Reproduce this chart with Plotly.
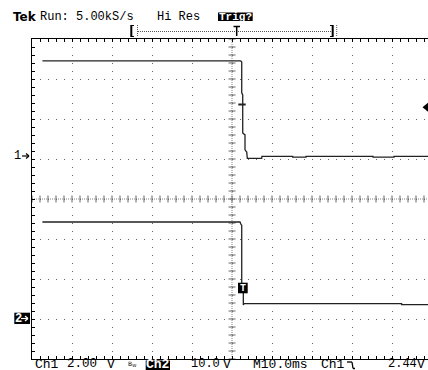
import numpy as np
import plotly.graph_objects as go

# ---- acquisition data (time in ms, volts) ----
ch1_t = [-47.4, 2.17, 2.43, 2.43, 2.68, 2.68, 3.25, 3.25, 3.68, 3.83, 7.43, 7.48,
         15.18, 15.18, 18.5, 18.5, 35.25, 35.25, 40.5, 40.5, 49.0]
ch1_v = [4.78, 4.78, 4.72, 3.18, 3.08, 1.18, 1.08, 0.33, 0.22, -0.09, -0.09, 0.01,
         0.01, -0.03, -0.03, 0.01, 0.01, -0.03, -0.03, 0.01, 0.01]

ch2_t = [-47.4, 2.0, 2.25, 2.43, 2.43, 2.83, 2.83, 3.0, 42.4, 42.4, 49.0]
ch2_v = [24.0, 24.0, 23.4, 23.2, 7.0, 6.6, 3.25, 3.58, 3.58, 3.33, 3.33]

# channel settings: volts/div and ground position (divisions from centre)
ch1_scale, ch1_pos = 2.0, 1.0625
ch2_scale, ch2_pos = 10.0, -2.975
trig_level = 2.44

# ---- screen geometry (pixels) ----
FIG_W, FIG_H = 428, 370
L, R, T, B = 32, 428, 39, 359
W, H = R - L, B - T
MS_PER_DIV = 10.0
PX_PER_DIV = 40.0
x_lo = -5 * MS_PER_DIV
x_hi = x_lo + W / PX_PER_DIV * MS_PER_DIV


def fx(x):
    return (x - L) / W


def fy(y):
    return (B - y) / H


def to_div(v, scale, pos):
    return [pos + val / scale for val in v]


fig = go.Figure()

# centre cross-hair tick marks (every minor division)
minor_t = np.arange(x_lo, x_hi + 0.01, MS_PER_DIV / 5)
fig.add_trace(go.Scatter(x=minor_t, y=np.zeros_like(minor_t), mode="markers",
                         marker=dict(symbol="line-ns", size=5,
                                     line=dict(color="#666", width=1)),
                         hoverinfo="skip"))
minor_d = np.arange(-4, 4.01, 0.2)
fig.add_trace(go.Scatter(x=np.zeros_like(minor_d), y=minor_d, mode="markers",
                         marker=dict(symbol="line-ew", size=5,
                                     line=dict(color="#666", width=1)),
                         hoverinfo="skip"))

# waveforms
fig.add_trace(go.Scatter(x=ch1_t, y=to_div(ch1_v, ch1_scale, ch1_pos), mode="lines",
                         line=dict(color="#222", width=1.3), name="Ch1"))
fig.add_trace(go.Scatter(x=ch2_t, y=to_div(ch2_v, ch2_scale, ch2_pos), mode="lines",
                         line=dict(color="#222", width=1.3), name="Ch2"))

shapes = []
# centre lines (finer dotted)
shapes.append(dict(type="line", xref="x", yref="y", x0=x_lo, x1=x_hi, y0=0, y1=0,
                   line=dict(color="#888", width=1, dash="1px,1px"), layer="below"))
shapes.append(dict(type="line", xref="x", yref="y", x0=0, x1=0, y0=-4, y1=4,
                   line=dict(color="#888", width=1, dash="1px,1px"), layer="below"))

# trigger mark on ch1 trace
trig_y = ch1_pos + trig_level / ch1_scale
shapes.append(dict(type="line", xref="paper", yref="y", x0=fx(238.3), x1=fx(245.7),
                   y0=trig_y + 0.08, y1=trig_y + 0.08, line=dict(color="#222", width=2)))
# trigger level arrow at right edge
shapes.append(dict(type="path", xref="paper", yref="paper",
                   path=f"M {fx(422.5)} {fy(107.3)} L {fx(428)} {fy(102.8)} L {fx(428)} {fy(111.8)} Z",
                   fillcolor="black", line=dict(width=0)))


def seg(x0, y0, x1, y1, w=1, color="black", dash=None):
    d = dict(type="line", xref="paper", yref="paper", x0=fx(x0), y0=fy(y0),
             x1=fx(x1), y1=fy(y1), line=dict(color=color, width=w))
    if dash:
        d["line"]["dash"] = dash
    return d

# record-position bracket at top
shapes += [
    seg(131.3, 25, 131.3, 37, 2), seg(131.3, 25.5, 134, 25.5, 1), seg(131.3, 36.5, 134, 36.5, 1),
    seg(137.5, 25, 137.5, 37, 1, "#555", "1px,1px"),
    seg(138, 31.5, 331, 31.5, 1, "#555", "1px,1px"),
    seg(233.5, 26.5, 240, 26.5, 1.5), seg(236.7, 26.5, 236.7, 36, 1.5),
    seg(332.7, 25, 332.7, 37, 2), seg(330, 25.5, 332.7, 25.5, 1), seg(330, 36.5, 332.7, 36.5, 1),
    seg(336.7, 25, 336.7, 37, 1, "#555", "1px,1px"),
]


# inverse-video boxes
def box(x0, y0, x1, y1):
    return dict(type="rect", xref="paper", yref="paper", x0=fx(x0), y0=fy(y0),
                x1=fx(x1), y1=fy(y1), fillcolor="black", line=dict(width=0), layer="above")

shapes += [box(218, 12.5, 252.7, 21), box(145.7, 360.5, 170, 370),
           box(14.3, 312.7, 30, 324), box(238, 282.7, 247.7, 293.3)]

# falling-edge symbol in trigger readout
shapes += [seg(347, 362, 352, 362, 1.3), seg(352, 362, 353, 368.5, 1.3),
           seg(353, 368.5, 355, 368.5, 1.3)]

# channel ground arrows
shapes += [seg(22, 156, 29, 156, 1.2), seg(26, 153.5, 29, 156, 1.2), seg(26, 158.5, 29, 156, 1.2),
           seg(21, 318.5, 28, 318.5, 1.2, "white"), seg(25, 316, 28, 318.5, 1.2, "white"),
           seg(25, 321, 28, 318.5, 1.2, "white")]
for s in shapes[-6:]:
    s["layer"] = "above"

FONT = "Liberation Mono"
anns = []


def txt(x, y, s, size=12, color="black", bold=False, family=FONT, anchor="left"):
    if bold:
        s = f"<b>{s}</b>"
    anns.append(dict(x=fx(x), y=fy(y), xref="paper", yref="paper", text=s, showarrow=False,
                     xanchor=anchor, yanchor="middle", borderpad=0,
                     font=dict(family=family, size=size, color=color)))

txt(12, 16.5, "Tek", 12, bold=True, family="DejaVu Sans")
txt(39, 16.5, "Run: 5.00kS/s", 12)
txt(156, 16.5, "Hi Res", 12)
txt(218, 16.8, "Trig?", 11, color="white", bold=True)

BY = 364.0
txt(34, BY, "Ch1", 13)
txt(65.5, BY, "2.00", 12.5)
txt(105.5, BY, "V", 13)
txt(126.5, BY, "B<sub>W</sub>", 6, family="DejaVu Sans")
txt(145, BY, "Ch2", 13, color="white", bold=True)
txt(190, BY, "10.0", 12)
txt(221.5, BY, "V", 13)
txt(252, BY, "M10.0ms", 13)
txt(320, BY, "Ch1", 13)
txt(386.5, BY, "2.44", 12)
txt(415.5, BY, "V", 13)

txt(13, 156, "1", 12)
txt(13.5, 318.5, "2", 12, color="white", bold=True)
txt(242.8, 288, "T", 10, color="white", bold=True, anchor="center")

fig.update_layout(
    width=FIG_W, height=FIG_H,
    margin=dict(l=L, r=FIG_W - R, t=T, b=FIG_H - B, pad=0),
    paper_bgcolor="white", plot_bgcolor="white",
    showlegend=False, shapes=shapes, annotations=anns,
    xaxis=dict(range=[x_lo, x_hi], tick0=x_lo, dtick=MS_PER_DIV, showgrid=True,
               gridcolor="#666", griddash="1px,7px", gridwidth=1, zeroline=False,
               showline=True, linecolor="black", linewidth=1, mirror="allticks",
               ticks="inside", ticklen=3, tickcolor="black", showticklabels=False,
               minor=dict(dtick=MS_PER_DIV / 5, ticks="inside", ticklen=3,
                          tickcolor="black", showgrid=False),
               fixedrange=True),
    yaxis=dict(range=[-4, 4], tick0=-4, dtick=1, showgrid=True,
               gridcolor="#666", griddash="1px,7px", gridwidth=1, zeroline=False,
               showline=True, linecolor="black", linewidth=1, mirror=False,
               ticks="inside", ticklen=3, tickcolor="black", showticklabels=False,
               minor=dict(dtick=0.2, ticks="inside", ticklen=3,
                          tickcolor="black", showgrid=False),
               fixedrange=True),
)

fig.write_html("out.html")
